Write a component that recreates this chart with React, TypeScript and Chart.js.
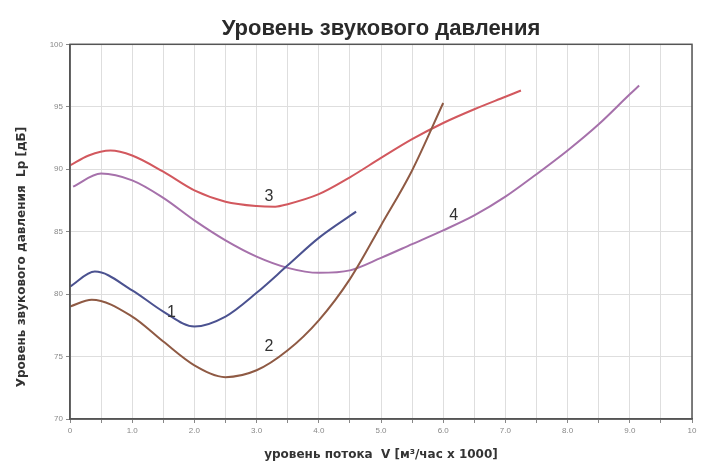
import React, { useEffect, useRef } from "react";
import { Chart, registerables } from "chart.js";

Chart.register(...registerables);

const TITLE = "Уровень звукового давления";
const X_TITLE = "уровень потока  V [м³/час x 1000]";
const Y_TITLE = "Уровень звукового давления  Lp [дБ]";

// Curve 1 (blue)
const curve1X = [0, 0.4, 1.0, 1.5, 2.0, 2.5, 3.0, 3.5, 4.0, 4.6];
const curve1Y = [80.6, 81.8, 80.3, 78.6, 77.4, 78.2, 80.1, 82.3, 84.5, 86.6];
// Curve 2 (brown)
const curve2X = [0, 0.35, 1.0, 1.5, 2.0, 2.5, 3.0, 3.5, 4.0, 4.5, 5.0, 5.5, 6.0];
const curve2Y = [79.0, 79.55, 78.2, 76.2, 74.3, 73.35, 73.9, 75.5, 77.9, 81.2, 85.5, 89.9, 95.3];
// Curve 3 (red)
const curve3X = [0, 0.3, 0.65, 1.0, 1.5, 2.0, 2.5, 3.0, 3.3, 3.5, 4.0, 4.5, 5.0, 5.5, 6.0, 6.5, 7.0, 7.25];
const curve3Y = [90.3, 91.1, 91.5, 91.1, 89.8, 88.3, 87.4, 87.05, 87.0, 87.2, 88.0, 89.35, 90.9, 92.4, 93.7, 94.8, 95.8, 96.3];
// Curve 4 (mauve)
const curve4X = [0.05, 0.5, 1.0, 1.5, 2.0, 2.5, 3.0, 3.5, 4.0, 4.5, 5.0, 5.5, 6.0, 6.5, 7.0, 7.5, 8.0, 8.5, 9.0, 9.15];
const curve4Y = [88.6, 89.65, 89.1, 87.7, 85.9, 84.3, 83.0, 82.1, 81.7, 81.9, 82.9, 84.0, 85.1, 86.3, 87.8, 89.6, 91.5, 93.6, 96.0, 96.7];

const curveNames = ["1", "2", "3", "4"];
const curveColors = ["#4b5290", "#8f5a44", "#d2585e", "#a671ab"];
const labelX = [1.63, 3.2, 3.2, 6.17];
const labelY = [78.5, 75.8, 87.8, 86.3];

const xMin = 0, xMax = 10, xStep = 0.5;
const yMin = 70, yMax = 100, yStep = 5;

const curvesX = [curve1X, curve2X, curve3X, curve4X];
const curvesY = [curve1Y, curve2Y, curve3Y, curve4Y];

const AX_FONT = "'DejaVu Sans', Verdana, sans-serif";

const extrasPlugin = {
  id: "extras",
  afterDatasetsDraw(chart: any) {
    const { ctx, chartArea, scales } = chart;
    ctx.save();
    // frame
    ctx.strokeStyle = "#555";
    ctx.lineWidth = 1.5;
    ctx.strokeRect(chartArea.left, chartArea.top, chartArea.right - chartArea.left, chartArea.bottom - chartArea.top);
    // curve number labels
    ctx.fillStyle = "#333";
    ctx.font = "16px 'Liberation Sans', Arial, sans-serif";
    ctx.textAlign = "center";
    ctx.textBaseline = "middle";
    curveNames.forEach((n, i) => {
      ctx.fillText(n, scales.x.getPixelForValue(labelX[i]), scales.y.getPixelForValue(labelY[i]));
    });
    // y axis title
    ctx.translate(22, 257);
    ctx.rotate(-Math.PI / 2);
    ctx.font = "bold 12px " + AX_FONT;
    ctx.fillStyle = "#333";
    ctx.fillText(Y_TITLE, 0, 0);
    ctx.restore();
  },
};

export default function App() {
  const ref = useRef<HTMLCanvasElement>(null);
  useEffect(() => {
    document.body.style.margin = "0";
    const canvas = ref.current!;
    const chart = new Chart(canvas, {
      type: "line",
      data: {
        datasets: curvesX.map((xs, i) => ({
          label: curveNames[i],
          data: xs.map((x, j) => ({ x, y: curvesY[i][j] })),
          borderColor: curveColors[i],
          borderWidth: 2,
          pointRadius: 0,
          cubicInterpolationMode: "monotone",
          fill: false,
        })),
      },
      options: {
        responsive: false,
        animation: false,
        events: [],
        layout: { padding: { left: 0, right: 10, top: 0, bottom: 0 } },
        plugins: {
          legend: { display: false },
          tooltip: { enabled: false },
          title: {
            display: true,
            text: TITLE,
            fullSize: false,
            color: "#2a2a2a",
            font: { size: 22, weight: "bold", family: "'Liberation Sans', Arial, sans-serif" },
            padding: { top: 15.5, bottom: 2.4 },
          },
        },
        scales: {
          x: {
            type: "linear",
            min: xMin,
            max: xMax,
            afterFit: (s: any) => { s.height = 46; },
            ticks: {
              stepSize: xStep,
              autoSkip: false,
              maxRotation: 0,
              color: "#888",
              font: { size: 8, family: "'Liberation Sans', Arial, sans-serif" },
              callback: (v: any) => {
                const n = Number(v);
                if (Math.abs(n - Math.round(n)) > 1e-6) return "";
                if (n === 0) return "0";
                if (n === 10) return "10";
                return n.toFixed(1);
              },
            },
            grid: { color: "#dedede", tickLength: 4, tickColor: "#888" },
            border: { color: "#555", width: 1.5 },
            title: {
              display: true,
              text: X_TITLE,
              color: "#333",
              font: { size: 12, weight: "bold", family: AX_FONT },
              padding: { top: 0, bottom: 3 },
            },
          },
          y: {
            min: yMin,
            max: yMax,
            afterFit: (s: any) => { s.width = 70; },
            ticks: {
              stepSize: yStep,
              color: "#888",
              font: { size: 8, family: "'Liberation Sans', Arial, sans-serif" },
            },
            grid: { color: "#dedede", tickLength: 4, tickColor: "#888" },
            border: { color: "#555", width: 1.5 },
          },
        },
      },
      plugins: [extrasPlugin],
    });
    return () => chart.destroy();
  }, []);
  return <canvas ref={ref} width={702} height={465} style={{ display: "block" }} />;
}
